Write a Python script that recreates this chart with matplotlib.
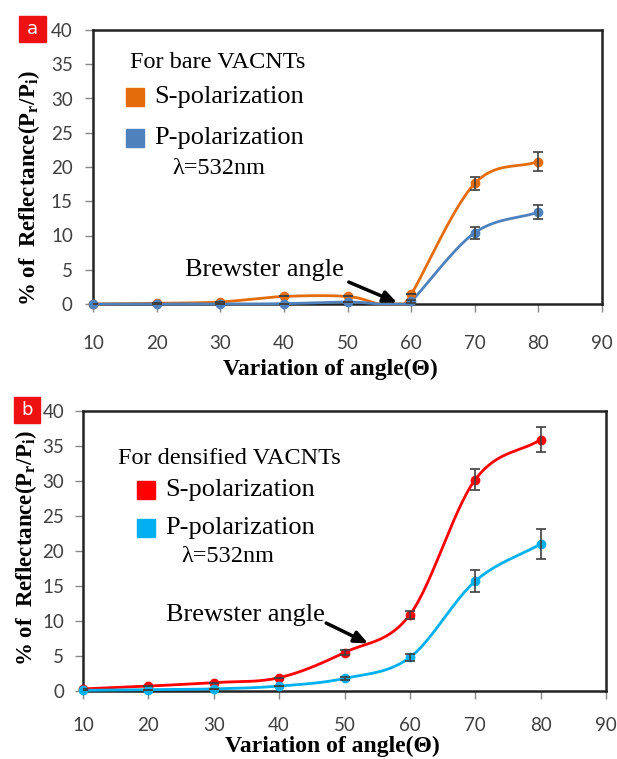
import numpy as np
import matplotlib
matplotlib.use("Agg")
import matplotlib.pyplot as plt
from matplotlib.patches import Rectangle

# ---------------- data ----------------
angles_a = [10, 20, 30, 40, 50, 55, 58, 60, 70, 80]
s_bare = [0.0, 0.1, 0.3, 1.1, 1.1, 0.0, 0.0, 1.4, 17.6, 20.8]
p_bare = [0.0, 0.0, 0.0, 0.05, 0.3, 0.0, 0.0, 0.4, 10.4, 13.4]
s_bare_err = [0, 0, 0, 0, 0, 0, 0, 0, 1.0, 1.4]
p_bare_err = [0, 0, 0, 0, 0, 0, 0, 0.2, 0.9, 1.0]

angles_b = [10, 20, 30, 40, 50, 60, 70, 80]
s_dens = [0.3, 0.7, 1.2, 1.9, 5.5, 10.9, 30.2, 35.9]
p_dens = [0.1, 0.2, 0.3, 0.7, 1.8, 4.8, 15.7, 21.0]
s_dens_err = [0, 0, 0, 0, 0.3, 0.6, 1.5, 1.8]
p_dens_err = [0, 0, 0, 0, 0.2, 0.5, 1.6, 2.1]

xticks = [10, 20, 30, 40, 50, 60, 70, 80, 90]
yticks = [0, 5, 10, 15, 20, 25, 30, 35, 40]

W, H = 617, 759
fig = plt.figure(figsize=(W / 100, H / 100), dpi=100)

def fx(px):
    return px / W

def fy(py):
    return 1 - py / H

def smooth(x, y, n=30):
    # Catmull-Rom spline through points (Excel-like smoothed line)
    x = np.asarray(x, float); y = np.asarray(y, float)
    P = np.column_stack([x, y])
    P = np.vstack([2 * P[0] - P[1], P, 2 * P[-1] - P[-2]])
    out = []
    for i in range(1, len(P) - 2):
        p0, p1, p2, p3 = P[i - 1], P[i], P[i + 1], P[i + 2]
        t = np.linspace(0, 1, n, endpoint=False)[:, None]
        seg = 0.5 * ((2 * p1) + (-p0 + p2) * t + (2 * p0 - 5 * p1 + 4 * p2 - p3) * t ** 2
                     + (-p0 + 3 * p1 - 3 * p2 + p3) * t ** 3)
        out.append(seg)
    out.append(P[-2][None, :])
    out = np.vstack(out)
    return out[:, 0], np.maximum(out[:, 1], 0.0)

serif = "Liberation Serif"
sans = "Lato"

def make_panel(box, x, s, p, se, pe, cs, cp, title, letter, letter_box,
               legend_pos, ylab_pos, xlab_pos, brew_text, brew_tail, brew_head, xpad, ypad):
    l, t, r, b = box
    ax = fig.add_axes([fx(l), fy(b), fx(r) - fx(l), fy(t) - fy(b)])
    ax.set_xlim(10, 90)
    ax.set_ylim(0, 40)
    ax.set_xticks(xticks)
    ax.set_yticks(yticks)
    ax.set_xticklabels([str(v) for v in xticks], fontfamily=sans, fontsize=13.5, color="#404040")
    ax.set_yticklabels([str(v) for v in yticks], fontfamily=sans, fontsize=13.5, color="#404040")
    ax.tick_params(axis="x", direction="out", length=5.5, width=1, color="#888888", pad=xpad)
    ax.tick_params(axis="y", direction="out", length=5.5, width=1, color="#888888", pad=ypad)
    for sp in ax.spines.values():
        sp.set_linewidth(1.8)
        sp.set_color("#222222")
    mark = [i for i, v in enumerate(x) if v % 10 == 0]
    for y, e, c in [(s, se, cs), (p, pe, cp)]:
        xs, ys = smooth(x, y)
        ax.plot(xs, ys, color=c, lw=2.0, zorder=3, clip_on=False)
        xm = [x[i] for i in mark]
        ym = [y[i] for i in mark]
        em = [e[i] for i in mark]
        ax.plot(xm, ym, "o", color=c, ms=6, zorder=4, clip_on=False)
        ax.errorbar(xm, ym, yerr=em, fmt="none", ecolor="#404040", elinewidth=1.2,
                    capsize=3.5, capthick=1.2, zorder=5)
    # legend-like text
    (tx, ty), (sqx, sy1, sy2), (lx, lty) = legend_pos
    fig.text(fx(tx), fy(ty), title, fontfamily=serif, fontsize=17.5, ha="left", va="center")
    for yy, c, lab in [(sy1, cs, "S-polarization"), (sy2, cp, "P-polarization")]:
        fig.patches.append(Rectangle((fx(sqx - 9), fy(yy + 9)), fx(18), 18 / H,
                                     transform=fig.transFigure, color=c))
        fig.text(fx(sqx + 19), fy(yy), lab, fontfamily=serif, fontsize=19, ha="left", va="center")
    fig.text(fx(lx), fy(lty), "λ=532nm", fontfamily=serif, fontsize=17.5, ha="left", va="center")
    # panel letter
    bx0, by0, bx1, by1 = letter_box
    fig.patches.append(Rectangle((fx(bx0), fy(by1)), fx(bx1 - bx0), (by1 - by0) / H,
                                 transform=fig.transFigure, color="#EE1111"))
    fig.text(fx((bx0 + bx1) / 2), fy((by0 + by1) / 2), letter, color="white",
             fontfamily="DejaVu Sans", fontsize=13, ha="center", va="center")
    # axis labels
    fig.text(fx(ylab_pos[0]), fy(ylab_pos[1]), r"% of  Reflectance(P$_\mathregular{r}$/P$_\mathregular{i}$)",
             fontfamily=serif, fontweight="bold", fontsize=16.5, rotation=90,
             ha="center", va="center")
    fig.text(fx(xlab_pos[0]), fy(xlab_pos[1]), "Variation of angle(Θ)",
             fontfamily=serif, fontweight="bold", fontsize=17, ha="center", va="center")
    # Brewster annotation
    ax.text(brew_text[0], brew_text[1], "Brewster angle", fontfamily=serif, fontsize=19,
            ha="center", va="center")
    ax.annotate("", xy=brew_head, xytext=brew_tail,
                arrowprops=dict(arrowstyle="-|>,head_length=0.8,head_width=0.35",
                                color="black", lw=2.5, shrinkA=0, shrinkB=0))
    return ax

make_panel((93, 30, 602, 304), angles_a, s_bare, p_bare, s_bare_err, p_bare_err,
           "#E46C0A", "#4F81BD", "For bare VACNTs", "a", (19, 16, 46, 42),
           ((130, 62), (135, 97, 138), (172, 168)),
           (29, 188), (330, 369),
           (37.0, 5.0), (50.2, 3.2), (57.8, 0.2), 17, 9)

make_panel((83, 411, 606, 691), angles_b, s_dens, p_dens, s_dens_err, p_dens_err,
           "#FF0000", "#00B0F0", "For densified VACNTs", "b", (14, 397, 40, 423),
           ((118, 458), (146, 490, 528), (181, 557)),
           (26, 548), (332, 746),
           (34.8, 10.9), (47.2, 9.7), (53.6, 6.8), 13.5, 8)

fig.savefig("out.png", dpi=100)
